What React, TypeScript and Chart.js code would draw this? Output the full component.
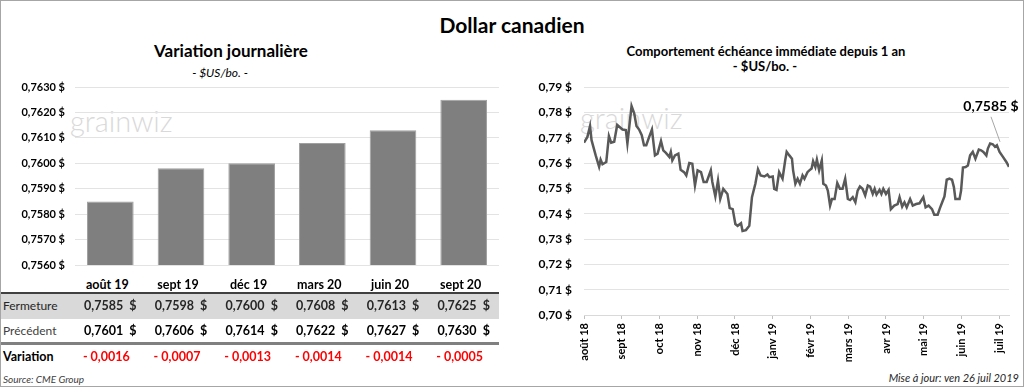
import React, { useEffect, useRef } from 'react';
import { Chart, registerables } from 'chart.js';

Chart.register(...registerables);

// ---------- Data ----------
const contractLabels = ['août 19', 'sept 19', 'déc 19', 'mars 20', 'juin 20', 'sept 20'];
const closeValues = [0.7585, 0.7598, 0.76, 0.7608, 0.7613, 0.7625];
const previousValues = [0.7601, 0.7606, 0.7614, 0.7622, 0.7627, 0.763];
const changeValues = [-0.0016, -0.0007, -0.0013, -0.0014, -0.0014, -0.0005];
const barAxisMin = 0.756;
const barAxisMax = 0.763;
const barAxisStep = 0.001;

const monthLabels = ['août 18', 'sept 18', 'oct 18', 'nov 18', 'déc 18', 'janv 19', 'févr 19', 'mars 19', 'avr 19', 'mai 19', 'juin 19', 'juil 19'];
// time in months since 1 Aug 2018
const historyMonths = [
  0, 0.09, 0.16, 0.2, 0.31, 0.4, 0.44, 0.49, 0.59, 0.66,
  0.72, 0.8, 0.88, 1.02, 1.11, 1.15, 1.19, 1.26, 1.33, 1.39,
  1.46, 1.53, 1.59, 1.65, 1.72, 1.8, 1.88, 1.95, 2.04, 2.1,
  2.17, 2.26, 2.3, 2.34, 2.41, 2.5, 2.56, 2.65, 2.71, 2.79,
  2.87, 2.94, 3.01, 3.1, 3.17, 3.25, 3.36, 3.4, 3.48, 3.55,
  3.61, 3.69, 3.8, 3.86, 3.94, 4.01, 4.07, 4.16, 4.2, 4.29,
  4.38, 4.45, 4.54, 4.61, 4.68, 4.78, 4.86, 4.91, 5.0, 5.04,
  5.1, 5.17, 5.26, 5.33, 5.37, 5.44, 5.51, 5.54, 5.6, 5.66,
  5.72, 5.79, 5.84, 5.92, 5.97, 6.03, 6.07, 6.13, 6.17, 6.23,
  6.3, 6.34, 6.41, 6.46, 6.52, 6.57, 6.64, 6.71, 6.78, 6.85,
  6.92, 6.99, 7.05, 7.12, 7.19, 7.25, 7.31, 7.38, 7.45, 7.52,
  7.58, 7.65, 7.7, 7.75, 7.83, 7.88, 7.93, 8.0, 8.07, 8.13,
  8.22, 8.31, 8.36, 8.43, 8.49, 8.55, 8.64, 8.71, 8.8, 8.89,
  8.99, 9.05, 9.13, 9.22, 9.28, 9.37, 9.43, 9.49, 9.55, 9.61,
  9.68, 9.75, 9.8, 9.84, 9.95, 9.99, 10.04, 10.11, 10.17, 10.23,
  10.3, 10.37, 10.46, 10.52, 10.58, 10.66, 10.7, 10.76, 10.83, 10.89,
  10.94, 11.01, 11.1, 11.19, 11.26,
];
const historyValues = [
  0.768, 0.7703, 0.7746, 0.769, 0.763, 0.7585, 0.7613, 0.7595, 0.7604, 0.7706,
  0.768, 0.7684, 0.775, 0.7732, 0.773, 0.7677, 0.773, 0.7825, 0.7796, 0.7746,
  0.7732, 0.771, 0.767, 0.767, 0.77, 0.7732, 0.763, 0.7637, 0.7687, 0.765,
  0.764, 0.7624, 0.7644, 0.761, 0.763, 0.7637, 0.7573, 0.7564, 0.7551, 0.76,
  0.7597, 0.7511, 0.7571, 0.7564, 0.7525, 0.7525, 0.7571, 0.7525, 0.7468, 0.7531,
  0.7458, 0.7498, 0.7478, 0.7422, 0.7418, 0.7359, 0.7352, 0.7362, 0.7332, 0.7335,
  0.7352, 0.7465, 0.7518, 0.7575, 0.7551, 0.7547, 0.7555, 0.7544, 0.7547, 0.7498,
  0.7494, 0.7564, 0.7538, 0.761, 0.7644, 0.763, 0.7617, 0.7571, 0.7518, 0.7538,
  0.7518, 0.7551, 0.7538, 0.7564, 0.7571, 0.7578, 0.7607, 0.7584, 0.7613, 0.7571,
  0.761, 0.7518, 0.7511, 0.7491, 0.7432, 0.7458, 0.7458, 0.7521, 0.7498, 0.7498,
  0.7538, 0.7458, 0.7454, 0.7465, 0.7445, 0.7491, 0.7507, 0.7498, 0.7472, 0.7511,
  0.7507, 0.7478, 0.7498, 0.7475, 0.7494, 0.7478, 0.7498, 0.7478, 0.7494, 0.7418,
  0.7432, 0.7438, 0.7465, 0.7428, 0.7445, 0.7425, 0.7458, 0.7432, 0.7438, 0.7441,
  0.7465, 0.7425, 0.7432, 0.7418, 0.7396, 0.7396, 0.7422, 0.7445, 0.7468, 0.7534,
  0.7538, 0.7534, 0.7505, 0.7458, 0.7458, 0.7491, 0.7582, 0.7584, 0.759, 0.763,
  0.7644, 0.7617, 0.7653, 0.765, 0.7644, 0.763, 0.7657, 0.7677, 0.7674, 0.7664,
  0.767, 0.7644, 0.7624, 0.7604, 0.7585,
];
const lineAxisMin = 0.7;
const lineAxisMax = 0.79;
const lineAxisStep = 0.01;

// ---------- Helpers ----------
const FONT = 'Lato, "Open Sans", sans-serif';
const fmt = (v: number, d: number) => v.toFixed(d).replace('.', ',');
const fmtChange = (v: number) => (v < 0 ? '- ' : '+ ') + fmt(Math.abs(v), 4);

const lastLabelPlugin = {
  id: 'lastLabel',
  afterDatasetsDraw(chart: any) {
    const meta = chart.getDatasetMeta(0);
    const pt = meta.data[meta.data.length - 1];
    if (!pt) return;
    const ctx = chart.ctx;
    const lx = pt.x - 18;
    const ly = pt.y - 60;
    ctx.save();
    ctx.strokeStyle = '#a6a6a6';
    ctx.lineWidth = 1;
    ctx.beginPath();
    ctx.moveTo(lx, ly + 10);
    ctx.lineTo(lx + (pt.x - lx) * 0.5, ly + 10 + (pt.y - ly - 10) * 0.5);
    ctx.stroke();
    ctx.fillStyle = '#000';
    ctx.font = `bold 14px ${FONT}`;
    ctx.textAlign = 'center';
    ctx.textBaseline = 'middle';
    ctx.fillText(fmt(historyValues[historyValues.length - 1], 4) + ' $', lx, ly);
    ctx.restore();
  },
};

function BarChart() {
  const ref = useRef<HTMLCanvasElement>(null);
  useEffect(() => {
    const chart = new Chart(ref.current!, {
      type: 'bar',
      data: {
        labels: contractLabels,
        datasets: [
          {
            data: closeValues,
            backgroundColor: '#7f7f7f',
            borderColor: '#a0a0a0',
            borderWidth: 1,
            barPercentage: 0.66,
            categoryPercentage: 1,
          },
        ],
      },
      options: {
        animation: false,
        responsive: false,
        layout: { padding: { top: 9, right: 11, bottom: 5, left: 0 } },
        plugins: { legend: { display: false }, tooltip: { enabled: false } },
        scales: {
          x: { display: false },
          y: {
            min: barAxisMin,
            max: barAxisMax,
            ticks: {
              stepSize: barAxisStep,
              padding: 10,
              color: '#000',
              font: { family: FONT, size: 11, weight: 'bold' },
              callback: (v: any) => fmt(Number(v), 4) + ' $',
            },
            grid: { color: '#e3e3e3', drawTicks: false },
            border: { display: false },
            afterFit: (s: any) => {
              s.width = 75;
              s.paddingTop = 0;
              s.paddingBottom = 0;
            },
          },
        },
      },
    } as any);
    return () => chart.destroy();
  }, []);
  return <canvas ref={ref} width={510} height={192} style={{ position: 'absolute', left: 0, top: 78, width: 510, height: 192 }} />;
}

function LineChart() {
  const ref = useRef<HTMLCanvasElement>(null);
  useEffect(() => {
    const points = historyMonths.map((m, i) => ({ x: m, y: historyValues[i] }));
    const chart = new Chart(ref.current!, {
      type: 'line',
      data: {
        datasets: [
          {
            data: points,
            borderColor: '#595959',
            borderWidth: 2.5,
            pointRadius: 0,
            tension: 0,
            fill: false,
          },
        ],
      },
      options: {
        animation: false,
        responsive: false,
        layout: { padding: { top: 9, right: 11, bottom: 0, left: 0 } },
        plugins: { legend: { display: false }, tooltip: { enabled: false } },
        scales: {
          x: {
            type: 'linear',
            min: 0,
            max: historyMonths[historyMonths.length - 1],
            afterBuildTicks: (s: any) => {
              s.ticks = monthLabels.map((_, i) => ({ value: i }));
            },
            ticks: {
              autoSkip: false,
              minRotation: 90,
              maxRotation: 90,
              padding: 4,
              color: '#000',
              font: { family: FONT, size: 11, weight: 'bold' },
              callback: (v: any) => monthLabels[Math.round(Number(v))],
            },
            grid: { drawOnChartArea: false, drawTicks: true, tickLength: 4, color: '#bfbfbf' },
            border: { color: '#d9d9d9' },
            afterFit: (s: any) => {
              s.height = 53;
              s.paddingLeft = 0;
              s.paddingRight = 0;
            },
          },
          y: {
            min: lineAxisMin,
            max: lineAxisMax,
            ticks: {
              stepSize: lineAxisStep,
              padding: 12,
              color: '#000',
              font: { family: FONT, size: 12, weight: 'bold' },
              callback: (v: any) => fmt(Number(v), 2) + ' $',
            },
            grid: { color: '#e3e3e3', drawTicks: false },
            border: { display: false },
            afterFit: (s: any) => {
              s.width = 64;
              s.paddingTop = 0;
              s.paddingBottom = 0;
            },
          },
        },
      },
      plugins: [lastLabelPlugin],
    } as any);
    return () => chart.destroy();
  }, []);
  return <canvas ref={ref} width={500} height={290} style={{ position: 'absolute', left: 520, top: 78, width: 500, height: 290 }} />;
}

const txt = (
  cx: number | null,
  cy: number,
  size: number,
  extra: React.CSSProperties,
  content: React.ReactNode,
  key?: string
) => (
  <div
    key={key}
    style={{
      position: 'absolute',
      top: cy - 10,
      height: 20,
      lineHeight: '20px',
      fontSize: size,
      whiteSpace: 'pre',
      ...(cx !== null ? { left: cx - 150, width: 300, textAlign: 'center' } : {}),
      ...extra,
    }}
  >
    {content}
  </div>
);

const Watermark = ({ left, top }: { left: number; top: number }) => (
  <div
    style={{
      position: 'absolute',
      left,
      top,
      fontSize: 29,
      fontWeight: 300,
      color: '#d9d9d9',
      lineHeight: '36px',
      whiteSpace: 'pre',
    }}
  >
    grainwiz
  </div>
);

export default function App() {
  const colCenters = contractLabels.map((_, i) => 75 + (424 / 6) * (i + 0.5));
  return (
    <div
      style={{
        position: 'absolute',
        left: 0,
        top: 0,
        width: 1022,
        height: 385,
        border: '1px solid #a6a6a6',
        background: '#fff',
        fontFamily: FONT,
        color: '#000',
        overflow: 'hidden',
      }}
    >
      <div style={{ position: 'absolute', left: -1, top: -1, width: 1024, height: 388 }}>
        {txt(512, 25, 21, { fontWeight: 'bold' }, 'Dollar canadien')}
        {txt(231, 51, 17, { fontWeight: 'bold' }, 'Variation journalière')}
        {txt(220, 73, 12, { fontStyle: 'italic' }, '- $US/bo. -')}
        {txt(766, 51, 13, { fontWeight: 'bold' }, 'Comportement échéance immédiate depuis 1 an')}
        {txt(765, 66, 13, { fontWeight: 'bold' }, '- $US/bo. -')}

        <Watermark left={70} top={103} />
        <Watermark left={580} top={100} />

        <BarChart />
        <LineChart />

        {/* table */}
        <div style={{ position: 'absolute', left: 0, top: 294, width: 499, height: 25, background: '#d9d9d9' }} />
        <div style={{ position: 'absolute', left: 0, top: 292, width: 499, height: 2, background: '#404040' }} />
        <div style={{ position: 'absolute', left: 0, top: 342, width: 499, height: 3, background: '#808080' }} />

        {contractLabels.map((l, i) => txt(colCenters[i] - 3, 285, 12.5, { fontWeight: 'bold' }, l, 'h' + i))}

        {txt(null, 306, 12, { left: 3, color: '#262626' }, 'Fermeture')}
        {closeValues.map((v, i) => txt(colCenters[i], 306, 12.5, { fontWeight: 'bold', color: '#262626' }, fmt(v, 4) + '  $', 'c' + i))}

        {txt(null, 331, 12, { left: 3, color: '#404040' }, 'Précédent')}
        {previousValues.map((v, i) => txt(colCenters[i], 331, 12.5, { fontWeight: 'bold' }, fmt(v, 4) + '  $', 'p' + i))}

        {txt(null, 357, 12.5, { left: 3, fontWeight: 'bold' }, 'Variation')}
        {changeValues.map((v, i) =>
          txt(colCenters[i] - 4, 357, 12.5, { fontWeight: 'bold', color: '#ff0000' }, fmtChange(v), 'v' + i)
        )}

        {txt(null, 379, 10, { left: 3, fontStyle: 'italic', color: '#404040' }, 'Source: CME Group')}
        {txt(null, 378, 11, { right: 5, fontStyle: 'italic', color: '#262626' }, 'Mise à jour: ven 26 juil 2019')}
      </div>
    </div>
  );
}
